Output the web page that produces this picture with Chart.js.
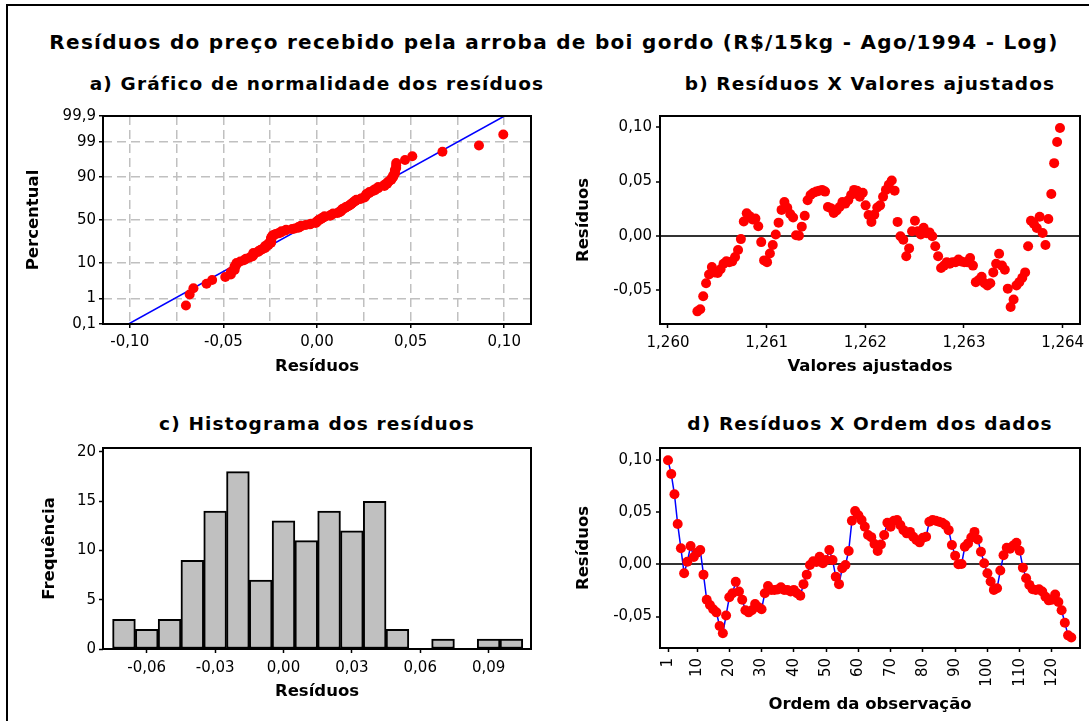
<!DOCTYPE html>
<html>
<head>
<meta charset="utf-8">
<title>Resíduos do preço recebido pela arroba de boi gordo</title>
<script src="https://cdn.jsdelivr.net/npm/chart.js@4"></script>
<style>
  body { margin: 0; background: #fff; width: 1089px; height: 721px; position: relative; overflow: hidden; font-family: "DejaVu Sans", sans-serif; }
  .moldura { position: absolute; left: 6px; top: 4px; width: 1200px; height: 800px; border-left: 2px solid #000; border-top: 2px solid #000; }
  .titulo { position: absolute; font-weight: bold; color: #000; white-space: nowrap; transform: translate(-50%, -50%); }
  #principal { left: 554px; top: 42px; font-size: 20px; letter-spacing: 1.3px; }
  .sub { font-size: 18.5px; letter-spacing: 1.15px; }
  canvas { position: absolute; }
</style>
</head>
<body>
<div class="moldura"></div>
<div class="titulo" id="principal">Resíduos do preço recebido pela arroba de boi gordo (R$/15kg - Ago/1994 - Log)</div>
<div class="titulo sub" style="left:317px; top:83px">a) Gráfico de normalidade dos resíduos</div>
<div class="titulo sub" style="left:870px; top:83px">b) Resíduos X Valores ajustados</div>
<div class="titulo sub" style="left:317px; top:423px">c) Histograma dos resíduos</div>
<div class="titulo sub" style="left:870px; top:423px">d) Resíduos X Ordem dos dados</div>

<canvas id="graficoA" width="535" height="285" style="left:10px; top:100px"></canvas>
<canvas id="graficoB" width="529" height="285" style="left:560px; top:100px"></canvas>
<canvas id="graficoC" width="535" height="291" style="left:10px; top:430px"></canvas>
<canvas id="graficoD" width="529" height="291" style="left:560px; top:430px"></canvas>

<script>
// residuos na ordem das observacoes (1 a 126)
var residuos = [
  0.0995, 0.0865, 0.067, 0.0385, 0.0153, -0.0086, 0.0025, 0.0175, 0.007, 0.011,
  0.0137, -0.0099, -0.034, -0.039, -0.043, -0.046, -0.059, -0.066, -0.049, -0.0315,
  -0.0277, -0.0168, -0.026, -0.034, -0.044, -0.046, -0.044, -0.038, -0.041, -0.043,
  -0.0277, -0.0207, -0.0245, -0.0245, -0.024, -0.022, -0.0245, -0.0245, -0.026, -0.0245,
  -0.0277, -0.030, -0.019, -0.0099, -0.0006, 0.003, 0.0022, 0.0073, 0.001, 0.004,
  0.0137, 0.004, -0.0118, -0.019, -0.0038, -0.0006, 0.0127, 0.0416, 0.0509, 0.047,
  0.0423, 0.036, 0.028, 0.026, 0.0194, 0.0127, 0.019, 0.028, 0.0397, 0.036,
  0.0416, 0.0423, 0.0375, 0.0327, 0.0296, 0.031, 0.0264, 0.0232, 0.021, 0.0254,
  0.0264, 0.0407, 0.0423, 0.0416, 0.0407, 0.0397, 0.0375, 0.0327, 0.0184, 0.0083,
  0.000, 0.0003, 0.0168, 0.020, 0.0257, 0.031, 0.0238, 0.012, 0.001, -0.0086,
  -0.0165, -0.0245, -0.0229, -0.006, 0.0086, 0.0159, 0.015, 0.018, 0.0207, 0.013,
  -0.0032, -0.0133, -0.0197, -0.0238, -0.0245, -0.0238, -0.026, -0.031, -0.0345, -0.034,
  -0.029, -0.036, -0.044, -0.056, -0.068, -0.070
];

// valores ajustados de cada observacao
var ajustados = [
  1.263973, 1.263944, 1.263914, 1.263885, 1.263855, 1.263826, 1.263797, 1.263767, 1.263738, 1.263708,
  1.263679, 1.263650, 1.263620, 1.263591, 1.263561, 1.263532, 1.263503, 1.263473, 1.263444, 1.263414,
  1.263385, 1.263356, 1.263326, 1.263297, 1.263267, 1.263238, 1.263209, 1.263179, 1.263150, 1.263120,
  1.263091, 1.263062, 1.263032, 1.263003, 1.262973, 1.262944, 1.262915, 1.262885, 1.262856, 1.262826,
  1.262797, 1.262768, 1.262738, 1.262709, 1.262679, 1.262650, 1.262621, 1.262591, 1.262562, 1.262532,
  1.262503, 1.262474, 1.262444, 1.262415, 1.262385, 1.262356, 1.262327, 1.262297, 1.262268, 1.262238,
  1.262209, 1.262180, 1.262150, 1.262121, 1.262091, 1.262062, 1.262033, 1.262003, 1.261974, 1.261944,
  1.261915, 1.261886, 1.261856, 1.261827, 1.261797, 1.261768, 1.261739, 1.261709, 1.261680, 1.261650,
  1.261621, 1.261592, 1.261562, 1.261533, 1.261503, 1.261474, 1.261445, 1.261415, 1.261386, 1.261356,
  1.261327, 1.261298, 1.261268, 1.261239, 1.261209, 1.261180, 1.261151, 1.261121, 1.261092, 1.261062,
  1.261033, 1.261004, 1.260974, 1.260945, 1.260915, 1.260886, 1.260857, 1.260827, 1.260798, 1.260768,
  1.260739, 1.260710, 1.260680, 1.260651, 1.260621, 1.260592, 1.260563, 1.260533, 1.260504, 1.260474,
  1.260445, 1.260416, 1.260386, 1.260357, 1.260327, 1.260298
];

// histograma: centro das classes e frequencias
var classes = [-0.07, -0.06, -0.05, -0.04, -0.03, -0.02, -0.01, 0.00, 0.01, 0.02, 0.03, 0.04, 0.05, 0.06, 0.07, 0.08, 0.09, 0.10];
var frequencias = [3, 2, 3, 9, 14, 18, 7, 13, 11, 14, 12, 15, 2, 0, 1, 0, 1, 1];

// marcas dos eixos
var ticksPercentual = [0.1, 1, 10, 50, 90, 99, 99.9];
var ticksResNormal = [-0.10, -0.075, -0.05, -0.025, 0, 0.025, 0.05, 0.075, 0.10];
var ticksAjustados = [1.260, 1.261, 1.262, 1.263, 1.264];
var ticksResiduos = [-0.05, 0, 0.05, 0.10];
var ticksFreq = [0, 5, 10, 15, 20];
var ticksClasses = [-0.06, -0.03, 0, 0.03, 0.06, 0.09];
var ticksOrdem = [1, 10, 20, 30, 40, 50, 60, 70, 80, 90, 100, 110, 120];

Chart.defaults.font.family = '"DejaVu Sans", sans-serif';
Chart.defaults.font.size = 15;
Chart.defaults.color = '#000';

var fonteTitulo = {family: '"DejaVu Sans", sans-serif', size: 16.5, weight: 'bold'};
var vermelho = '#ff0000';
var azul = '#0000ff';
var nada = 'rgba(0,0,0,0)';
var raio = 5;

function virgula(v, casas) {
  return v.toFixed(casas).replace('.', ',');
}

// inversa da normal padrao (Acklam)
function qnorm(p) {
  var a = [-3.969683028665376e+01, 2.209460984245205e+02, -2.759285104469687e+02, 1.383577518672690e+02, -3.066479806614716e+01, 2.506628277459239e+00];
  var b = [-5.447609879822406e+01, 1.615858368580409e+02, -1.556989798598866e+02, 6.680131188771972e+01, -1.328068155288572e+01];
  var c = [-7.784894002430293e-03, -3.223964580411365e-01, -2.400758277161838e+00, -2.549732539343734e+00, 4.374664141464968e+00, 2.938163982698783e+00];
  var d = [7.784695709041462e-03, 3.224671290700398e-01, 2.445134137142996e+00, 3.754408661907416e+00];
  var q, r;
  if (p < 0.02425) {
    q = Math.sqrt(-2 * Math.log(p));
    return (((((c[0]*q+c[1])*q+c[2])*q+c[3])*q+c[4])*q+c[5]) / ((((d[0]*q+d[1])*q+d[2])*q+d[3])*q+1);
  }
  if (p > 1 - 0.02425) {
    q = Math.sqrt(-2 * Math.log(1 - p));
    return -(((((c[0]*q+c[1])*q+c[2])*q+c[3])*q+c[4])*q+c[5]) / ((((d[0]*q+d[1])*q+d[2])*q+d[3])*q+1);
  }
  q = p - 0.5;
  r = q * q;
  return (((((a[0]*r+a[1])*r+a[2])*r+a[3])*r+a[4])*r+a[5])*q / (((((b[0]*r+b[1])*r+b[2])*r+b[3])*r+b[4])*r+1);
}

// moldura preta em volta da area de plotagem
var moldura = {
  id: 'moldura',
  afterDraw: function(chart) {
    var a = chart.chartArea;
    var ctx = chart.ctx;
    ctx.save();
    ctx.strokeStyle = '#000';
    ctx.lineWidth = 2;
    ctx.strokeRect(a.left, a.top, a.right - a.left, a.bottom - a.top);
    ctx.restore();
  }
};

// tamanho fixo da caixa do eixo, para alinhar os paineis
function tamanho(w, h) {
  return function(scale) {
    if (w) scale.width = w;
    if (h) scale.height = h;
    scale.paddingTop = 0;
    scale.paddingBottom = 0;
    scale.paddingLeft = 0;
    scale.paddingRight = 0;
  };
}

function marcas(valores) {
  return function(scale) {
    scale.ticks = valores.map(function(v) {return {value: v}});
  };
}

function opcoes(pad, escalas) {
  return {
    responsive: false,
    devicePixelRatio: 1,
    animation: false,
    events: [],
    layout: {padding: pad, autoPadding: false},
    plugins: {legend: {display: false}, tooltip: {enabled: false}},
    scales: escalas
  };
}

// a) grafico de normalidade
var n = residuos.length;
var ordenados = residuos.slice().sort(function(p, q) {return p - q});
var pontosNormal = ordenados.map(function(r, i) {
  return {x: r, y: qnorm((i + 1 - 0.3) / (n + 0.4))};
});
var media = residuos.reduce(function(s, r) {return s + r}, 0) / n;
var desvio = Math.sqrt(residuos.reduce(function(s, r) {return s + (r - media) * (r - media)}, 0) / (n - 1));
var zMin = qnorm(0.001);
var zMax = qnorm(0.999);
var retaNormal = [{x: media + desvio * zMin, y: zMin}, {x: media + desvio * zMax, y: zMax}];

new Chart('graficoA', {
  type: 'scatter',
  data: {
    datasets: [
      {data: pontosNormal, pointRadius: raio, pointBackgroundColor: vermelho, pointBorderWidth: 0},
      {type: 'line', data: retaNormal, showLine: true, borderColor: azul, borderWidth: 1.5, pointRadius: 0, fill: false}
    ]
  },
  options: opcoes({left: 0, right: 14, top: 16, bottom: 0}, {
    x: {
      type: 'linear', min: -0.1143, max: 0.1143,
      afterBuildTicks: marcas(ticksResNormal), afterFit: tamanho(0, 61),
      border: {display: false, dash: [9, 5]},
      grid: {color: '#c0c0c0', lineWidth: 1.5, tickLength: 4, tickWidth: 1.5,
        tickColor: function(c) {return c.index % 2 ? nada : '#000'}},
      ticks: {autoSkip: false, maxRotation: 0, padding: 5,
        callback: function(v, i) {return i % 2 ? '' : virgula(v, 2)}},
      title: {display: true, text: 'Resíduos', font: fonteTitulo, padding: {top: 0, bottom: 8}}
    },
    y: {
      type: 'linear', min: zMin, max: zMax,
      afterBuildTicks: marcas(ticksPercentual.map(function(p) {return qnorm(p / 100)})),
      afterFit: tamanho(93, 0),
      border: {display: false, dash: [9, 5]},
      grid: {lineWidth: 1.5, tickLength: 4, tickWidth: 1.5, tickColor: '#000',
        color: function(c) {return (c.index === 0 || c.index === ticksPercentual.length - 1) ? nada : '#c0c0c0'}},
      ticks: {autoSkip: false, padding: 3,
        callback: function(v, i) {return String(ticksPercentual[i]).replace('.', ',')}},
      title: {display: true, text: 'Percentual', font: fonteTitulo, padding: {top: 14, bottom: 0}}
    }
  }),
  plugins: [moldura]
});

// b) residuos x valores ajustados
var pontosAjustados = residuos.map(function(r, i) {return {x: ajustados[i], y: r}});

new Chart('graficoB', {
  type: 'scatter',
  data: {
    datasets: [{data: pontosAjustados, pointRadius: raio, pointBackgroundColor: vermelho, pointBorderWidth: 0}]
  },
  options: opcoes({left: 0, right: 9, top: 16, bottom: 0}, {
    x: {
      type: 'linear', min: 1.259919, max: 1.264176,
      afterBuildTicks: marcas(ticksAjustados), afterFit: tamanho(0, 61),
      border: {display: false},
      grid: {color: nada, tickLength: 4, tickWidth: 1.5, tickColor: '#000'},
      ticks: {autoSkip: false, maxRotation: 0, padding: 6, callback: function(v) {return virgula(v, 3)}},
      title: {display: true, text: 'Valores ajustados', font: fonteTitulo, padding: {top: 0, bottom: 8}}
    },
    y: {
      type: 'linear', min: -0.0817, max: 0.1106,
      afterBuildTicks: marcas(ticksResiduos), afterFit: tamanho(100, 0),
      border: {display: false},
      grid: {lineWidth: 2, tickLength: 4, tickWidth: 1.5, tickColor: '#000',
        color: function(c) {return c.tick && c.tick.value === 0 ? '#333' : nada}},
      ticks: {autoSkip: false, padding: 4, callback: function(v) {return virgula(v, 2)}},
      title: {display: true, text: 'Resíduos', font: fonteTitulo, padding: {top: 13.6, bottom: 0}}
    }
  }),
  plugins: [moldura]
});

// c) histograma
var barras = classes.map(function(c, i) {return {x: c, y: frequencias[i]}});

new Chart('graficoC', {
  type: 'bar',
  data: {
    datasets: [{data: barras, backgroundColor: '#c0c0c0', borderColor: '#000', borderWidth: 2,
      borderSkipped: false, barPercentage: 1, categoryPercentage: 1}]
  },
  options: opcoes({left: 0, right: 14, top: 18, bottom: 0}, {
    x: {
      type: 'linear', min: -0.0792, max: 0.1086, offset: false,
      afterBuildTicks: marcas(ticksClasses), afterFit: tamanho(0, 72),
      border: {display: false},
      grid: {color: nada, offset: false, tickLength: 4, tickWidth: 1.5, tickColor: '#000'},
      ticks: {autoSkip: false, maxRotation: 0, padding: 6, callback: function(v) {return virgula(v, 2)}},
      title: {display: true, text: 'Resíduos', font: fonteTitulo, padding: {top: 0, bottom: 19.4}}
    },
    y: {
      type: 'linear', min: 0, max: 20.4,
      afterBuildTicks: marcas(ticksFreq), afterFit: tamanho(93, 0),
      border: {display: false},
      grid: {color: nada, tickLength: 4, tickWidth: 1.5, tickColor: '#000'},
      ticks: {autoSkip: false, padding: 3},
      title: {display: true, text: 'Frequência', font: fonteTitulo, padding: {top: 30, bottom: 0}}
    }
  }),
  plugins: [moldura]
});

// d) residuos x ordem dos dados
var pontosOrdem = residuos.map(function(r, i) {return {x: i + 1, y: r}});

new Chart('graficoD', {
  type: 'scatter',
  data: {
    datasets: [{type: 'line', data: pontosOrdem, showLine: true, borderColor: azul, borderWidth: 1.5, tension: 0,
      fill: false, pointRadius: raio, pointBackgroundColor: vermelho, pointBorderColor: vermelho, pointBorderWidth: 0}]
  },
  options: opcoes({left: 0, right: 9, top: 18, bottom: 0}, {
    x: {
      type: 'linear', min: -1.48, max: 128.7,
      afterBuildTicks: marcas(ticksOrdem), afterFit: tamanho(0, 73),
      border: {display: false},
      grid: {color: nada, tickLength: 4, tickWidth: 1.5, tickColor: '#000'},
      ticks: {autoSkip: false, minRotation: 90, maxRotation: 90, padding: 6, callback: function(v) {return String(v)}},
      title: {display: true, text: 'Ordem da observação', font: fonteTitulo, padding: {top: 0, bottom: 6.4}}
    },
    y: {
      type: 'linear', min: -0.0801, max: 0.1113,
      afterBuildTicks: marcas(ticksResiduos), afterFit: tamanho(100, 0),
      border: {display: false},
      grid: {lineWidth: 2, tickLength: 4, tickWidth: 1.5, tickColor: '#000',
        color: function(c) {return c.tick && c.tick.value === 0 ? '#333' : nada}},
      ticks: {autoSkip: false, padding: 4, callback: function(v) {return virgula(v, 2)}},
      title: {display: true, text: 'Resíduos', font: fonteTitulo, padding: {top: 13.6, bottom: 0}}
    }
  }),
  plugins: [moldura]
});
</script>
</body>
</html>
